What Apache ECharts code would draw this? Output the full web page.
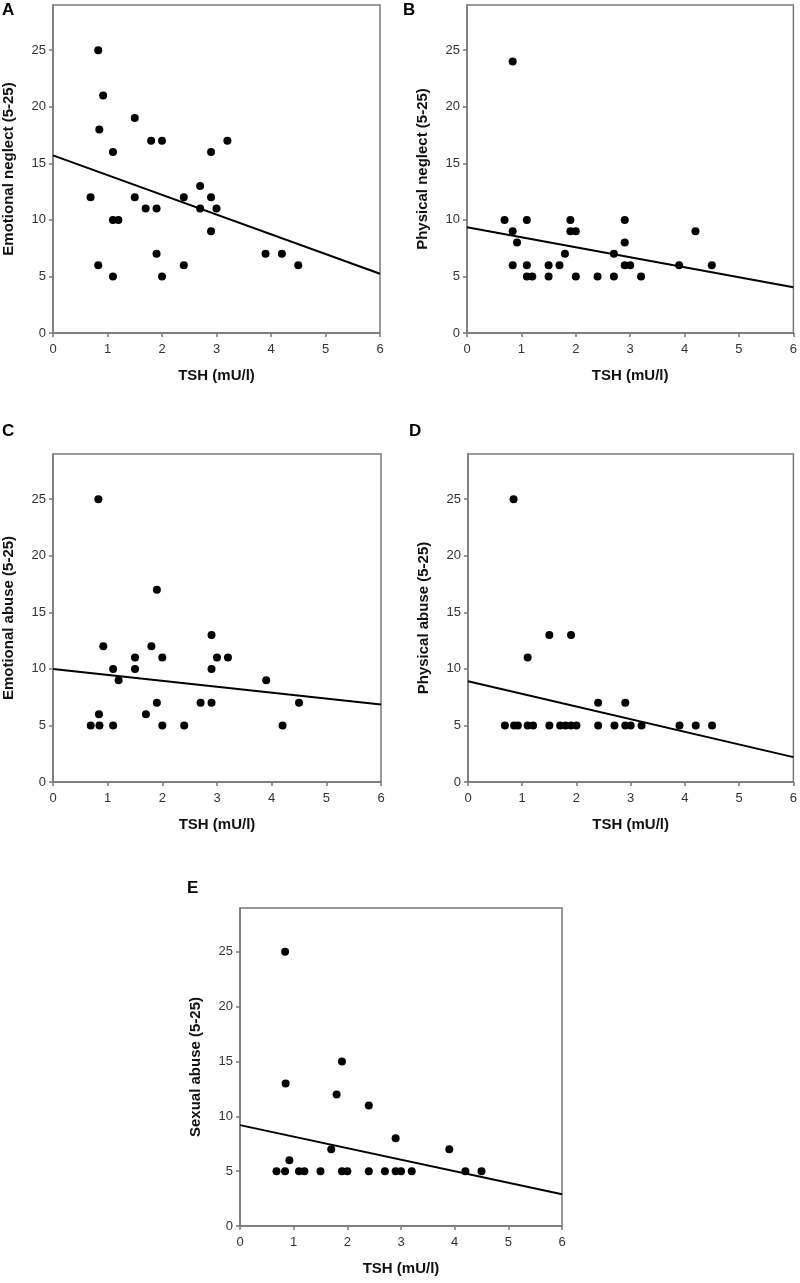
<!DOCTYPE html>
<html>
<head>
<meta charset="utf-8">
<script src="https://cdn.jsdelivr.net/npm/echarts@6/dist/echarts.min.js"></script>
<style>
  html, body { margin: 0; padding: 0; background: #fff; }
  #main { width: 800px; height: 1283px; }
</style>
</head>
<body>
<div id="main"></div>
<script>
// TSH (mU/l) per subject and score
var tshA = [0.83, 0.92, 0.85, 1.5, 1.8, 2.0, 3.2, 1.1, 2.9, 0.69, 1.5, 2.4, 2.7, 2.9, 1.7, 1.9, 2.7, 3.0, 1.1, 1.2, 2.9, 1.9, 3.9, 4.2, 0.83, 2.4, 4.5, 1.1, 2.0];
var emoNeglect = [25, 21, 18, 19, 17, 17, 17, 16, 16, 12, 12, 12, 13, 12, 11, 11, 11, 11, 10, 10, 9, 7, 7, 7, 6, 6, 6, 5, 5];
var fitA = [15.7, 5.24];   // regression line at TSH = 0 and 6

var tshB = [0.84, 0.69, 1.1, 1.9, 2.9, 0.84, 1.9, 2.0, 4.2, 0.92, 2.9, 1.8, 2.7, 0.84, 1.1, 1.5, 1.7, 2.9, 3.0, 3.9, 4.5, 1.1, 1.2, 1.5, 2.0, 2.4, 2.7, 3.2];
var physNeglect = [24, 10, 10, 10, 10, 9, 9, 9, 9, 8, 8, 7, 7, 6, 6, 6, 6, 6, 6, 6, 6, 5, 5, 5, 5, 5, 5, 5];
var fitB = [9.35, 4.05];

var tshC = [0.83, 1.9, 2.9, 0.92, 1.8, 1.5, 2.0, 3.0, 3.2, 1.1, 1.5, 2.9, 1.2, 3.9, 1.9, 2.7, 2.9, 4.5, 0.84, 1.7, 0.69, 0.85, 1.1, 2.0, 2.4, 4.2];
var emoAbuse = [25, 17, 13, 12, 12, 11, 11, 11, 11, 10, 10, 10, 9, 9, 7, 7, 7, 7, 6, 6, 5, 5, 5, 5, 5, 5];
var fitC = [10.0, 6.85];

var tshD = [0.84, 1.5, 1.9, 1.1, 2.4, 2.9, 0.68, 0.85, 0.92, 1.1, 1.2, 1.5, 1.7, 1.8, 1.9, 2.0, 2.4, 2.7, 2.9, 3.0, 3.2, 3.9, 4.2, 4.5];
var physAbuse = [25, 13, 13, 11, 7, 7, 5, 5, 5, 5, 5, 5, 5, 5, 5, 5, 5, 5, 5, 5, 5, 5, 5, 5];
var fitD = [8.9, 2.2];

var tshE = [0.84, 1.9, 0.85, 1.8, 2.4, 2.9, 1.7, 3.9, 0.92, 0.68, 0.84, 1.1, 1.2, 1.5, 1.9, 2.0, 2.4, 2.7, 2.9, 3.0, 3.2, 4.2, 4.5];
var sexAbuse = [25, 15, 13, 12, 11, 8, 7, 7, 6, 5, 5, 5, 5, 5, 5, 5, 5, 5, 5, 5, 5, 5, 5];
var fitE = [9.2, 2.9];

var yTicks = [0, 5, 10, 15, 20, 25];
var xName = 'TSH (mU/l)';

var AX = '#7a7a7a';
var FONT = 'Liberation Sans, Arial, Helvetica, sans-serif';

var panels = [
  { letter: 'A', name: 'Emotional neglect (5-25)', x: tshA, y: emoNeglect, fit: fitA, box: [53, 5, 327, 328], tag: [2, 2] },
  { letter: 'B', name: 'Physical neglect (5-25)', x: tshB, y: physNeglect, fit: fitB, box: [467, 5, 327, 328], tag: [403, 2] },
  { letter: 'C', name: 'Emotional abuse (5-25)', x: tshC, y: emoAbuse, fit: fitC, box: [53, 454, 328, 328], tag: [2, 423] },
  { letter: 'D', name: 'Physical abuse (5-25)', x: tshD, y: physAbuse, fit: fitD, box: [468, 454, 327, 328], tag: [409, 423] },
  { letter: 'E', name: 'Sexual abuse (5-25)', x: tshE, y: sexAbuse, fit: fitE, box: [240, 908, 322, 318], tag: [187, 880] }
];

var option = { animation: false, title: [], grid: [], xAxis: [], yAxis: [], series: [] };

panels.forEach(function (p, i) {
  option.title.push({
    text: p.letter, left: p.tag[0], top: p.tag[1], padding: 0,
    textStyle: { fontFamily: FONT, fontWeight: 'bold', fontSize: 17, color: '#000' }
  });
  option.grid.push({
    left: p.box[0], top: p.box[1], width: p.box[2], height: p.box[3],
    show: true, borderColor: AX, borderWidth: 1.5
  });
  option.xAxis.push({
    gridIndex: i, type: 'value', min: 0, max: 6, interval: 1,
    name: xName, nameLocation: 'middle', nameGap: 35,
    nameTextStyle: { fontFamily: FONT, fontWeight: 'bold', fontSize: 15, color: '#111' },
    axisLine: { show: true, onZero: false, lineStyle: { color: AX, width: 1.5 } },
    axisTick: { show: true, length: 4, lineStyle: { color: AX, width: 1.5 } },
    axisLabel: { fontFamily: FONT, fontSize: 13, color: '#333', margin: 10 },
    splitLine: { show: false }
  });
  option.yAxis.push({
    gridIndex: i, type: 'value', min: 0, max: 29,
    name: p.name, nameLocation: 'middle', nameGap: 37,
    nameTextStyle: { fontFamily: FONT, fontWeight: 'bold', fontSize: 15, color: '#111' },
    axisLine: { show: true, onZero: false, lineStyle: { color: AX, width: 1.5 } },
    axisTick: { show: true, length: 4, customValues: yTicks, lineStyle: { color: AX, width: 1.5 } },
    axisLabel: { fontFamily: FONT, fontSize: 13, color: '#333', margin: 7, customValues: yTicks },
    splitLine: { show: false }
  });
  option.series.push({
    type: 'line', xAxisIndex: i, yAxisIndex: i, silent: true, z: 2,
    symbol: 'none', lineStyle: { color: '#000', width: 2 },
    data: [[0, p.fit[0]], [6, p.fit[1]]]
  });
  option.series.push({
    type: 'scatter', xAxisIndex: i, yAxisIndex: i, z: 3,
    symbolSize: 8, itemStyle: { color: '#000', opacity: 1 },
    data: p.x.map(function (v, k) { return [v, p.y[k]]; })
  });
});

var chart = echarts.init(document.getElementById('main'), null, { renderer: 'canvas' });
chart.setOption(option);
</script>
</body>
</html>
